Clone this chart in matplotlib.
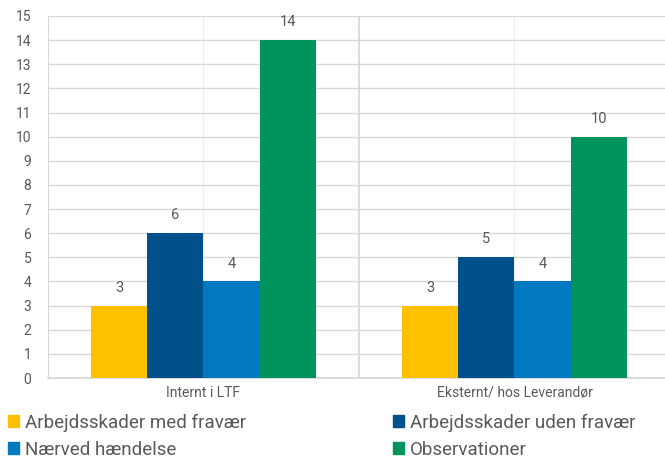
import matplotlib
matplotlib.use('Agg')
import matplotlib.pyplot as plt
from matplotlib.patches import Patch
import numpy as np

plt.rcParams['font.family'] = ['Roboto', 'DejaVu Sans']

categories = ['Internt i LTF', 'Eksternt/ hos Leverandør']
series = ['Arbejdsskader med fravær', 'Arbejdsskader uden fravær',
          'Nærved hændelse', 'Observationer']
values = [
    [3, 3],
    [6, 5],
    [4, 4],
    [14, 10],
]
colors = ['#FFC000', '#00508C', '#0079C1', '#00935B']
TEXT = '#595959'

fig = plt.figure(figsize=(6.65, 4.59), dpi=100)
ax = fig.add_axes([48 / 665, 81 / 459, 617 / 665, 362 / 459])

x = np.arange(len(categories))
bw = 0.181
for i, (name, vals) in enumerate(zip(series, values)):
    pos = x + (i - 1.5) * bw
    bars = ax.bar(pos, vals, width=bw, color=colors[i], label=name, zorder=3)
    for b, v in zip(bars, vals):
        ax.text(b.get_x() + b.get_width() / 2, v + 0.45, str(v),
                ha='center', va='bottom', fontsize=10.5, color=TEXT)

ax.set_ylim(0, 15)
ax.set_xlim(-0.5, 1.484)
ax.set_yticks(range(0, 16))
ax.yaxis.grid(True, color='#D9D9D9', linewidth=1, zorder=0)

# category separators and centre lines
ax.set_xticks([0.5], minor=False)
ax.set_xticklabels([])
ax.xaxis.grid(True, which='major', color='#D9D9D9', linewidth=1.3, zorder=0)
ax.set_xticks(x, minor=True)
ax.xaxis.grid(True, which='minor', color='#EFEFEF', linewidth=1, zorder=0)
ax.tick_params(axis='x', which='both', length=0)
for xi, lab in zip(x, categories):
    ax.text(xi, -0.35, lab, ha='center', va='top', fontsize=10, color=TEXT,
            transform=ax.transData)

ax.tick_params(axis='y', length=0, labelsize=10, labelcolor=TEXT, pad=12)
for s in ['top', 'right']:
    ax.spines[s].set_visible(False)
ax.spines['left'].set_color('#D9D9D9')
ax.spines['bottom'].set_color('#D9D9D9')
ax.spines['bottom'].set_linewidth(1.3)

# legend fills column-wise, so reorder to get row-wise order
order = [0, 2, 1, 3]
handles = [Patch(color=colors[k]) for k in order]
labels = [series[k] for k in order]
fig.legend(handles, labels, ncol=2, loc='lower left',
           bbox_to_anchor=(0.009, -0.004), frameon=False,
           fontsize=13.5, labelcolor=TEXT, handlelength=0.6, handleheight=0.6,
           handletextpad=0.3, columnspacing=7.85, borderaxespad=0.0,
           borderpad=0.1, labelspacing=0.48)

fig.savefig('out.png', dpi=100)
